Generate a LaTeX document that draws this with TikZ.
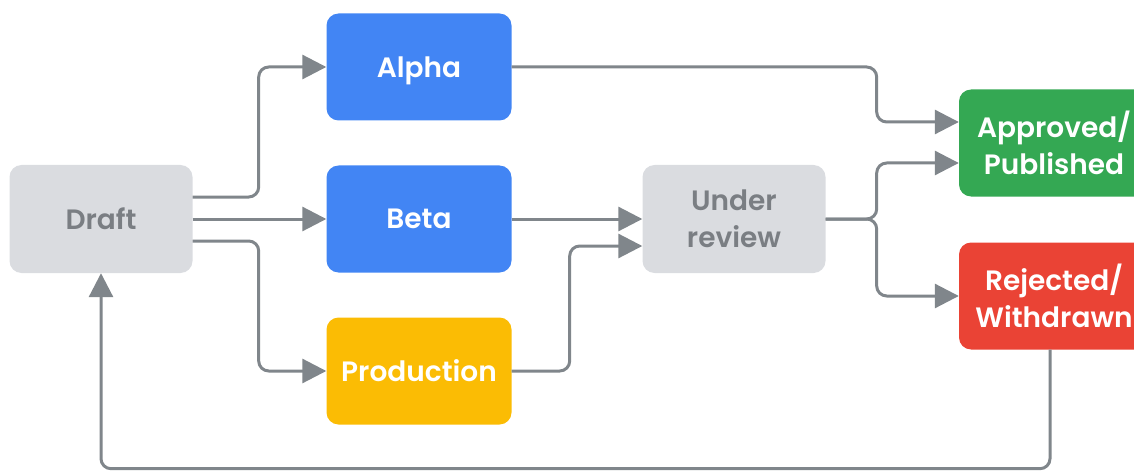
\documentclass[tikz,border=0pt]{standalone}
\usepackage{fontspec}
\setmainfont{Poppins}[BoldFont={Poppins SemiBold}]
\usetikzlibrary{arrows.meta}
\definecolor{gblue}{HTML}{4285F4}
\definecolor{ggreen}{HTML}{34A853}
\definecolor{gred}{HTML}{EA4335}
\definecolor{gyellow}{HTML}{FBBC04}
\definecolor{ggrey}{HTML}{DADCE0}
\definecolor{gtext}{HTML}{7A7E83}
\definecolor{gline}{HTML}{80868B}
\tikzset{
  state/.style={rectangle, rounded corners=12pt, minimum width=185pt,
    minimum height=107pt, align=center, text=white, inner sep=0pt,
    font=\fontsize{28}{37}\selectfont\bfseries},
  neutral/.style={state, fill=ggrey, text=gtext},
  conn/.style={draw=gline, line width=3pt, rounded corners=10pt,
    -{Triangle[length=24pt,width=24pt]}}
}
\begin{document}
\begin{tikzpicture}[x=1pt,y=-1pt]
\useasboundingbox (0,0) rectangle (1134,473);
% states
\node[neutral, minimum width=183pt, minimum height=108pt] (draft) at (101,219) {Draft};
\node[state, fill=gblue, text depth=0pt] (alpha) at (419,67) {Alpha};
\node[state, fill=gblue] (beta) at (419,219) {Beta};
\node[state, fill=gyellow] (prod) at (419,371) {Production};
\node[neutral, minimum width=183pt, minimum height=108pt] (review) at (734,219) {Under\\review};
\node[state, fill=ggreen, minimum width=190pt] (approved) at (1054,143) {Approved/\\Published};
\node[state, fill=gred, minimum width=190pt] (rejected) at (1054,296) {Rejected/\\Withdrawn};
% transitions out of the draft
\draw[conn] ([yshift=22pt]draft.east) -- ++(66,0) |- (alpha.west);
\draw[conn] (draft.east) -- (beta.west);
\draw[conn] ([yshift=-22pt]draft.east) -- ++(66,0) |- (prod.west);
% towards review and the final states
\draw[conn] (alpha.east) -- ++(365,0) |- ([yshift=21pt]approved.west);
\draw[conn] (beta.east) -- (review.west);
\draw[conn] (prod.east) -- ++(58,0) |- ([yshift=-27pt]review.west);
\draw[conn] (review.east) -- ++(51,0) |- ([yshift=-20pt]approved.west);
\draw[conn] (review.east) -- ++(51,0) |- (rejected.west);
% loop back to the draft
\draw[conn] ([xshift=-4pt]rejected.south) -- ++(0,119) -| (draft.south);
\end{tikzpicture}
\end{document}
